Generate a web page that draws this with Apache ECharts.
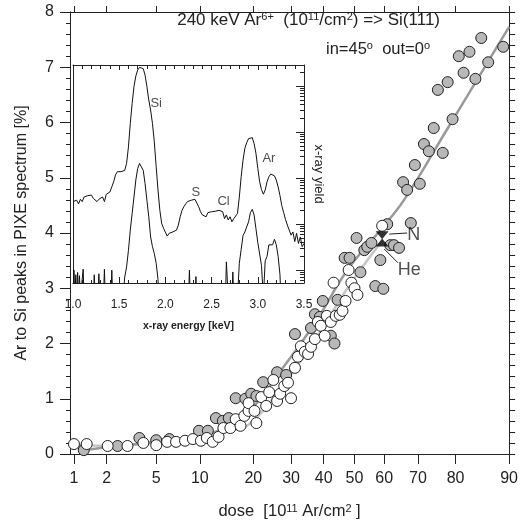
<!DOCTYPE html>
<html>
<head>
<meta charset="utf-8">
<script src="https://cdn.jsdelivr.net/npm/echarts@6.0.0/dist/echarts.min.js"></script>
<style>
  html, body { margin: 0; padding: 0; background: #fff; }
  #chart { width: 521px; height: 525px; }
</style>
</head>
<body>
<div id="chart"></div>
<script>
// dose axis of the original is hand made (neither log nor linear),
// ticks sit at these places, doses in between are interpolated
const DOSE_TICKS = [1, 2, 5, 10, 20, 30, 40, 50, 60, 70, 80, 90];
const DOSE_TICK_POS = [0, 33, 83, 127, 181, 219, 252, 283, 313, 347, 385, 439];

// filled (grey) points
const GRAY_DOSE = [1.3, 2.66, 3.98, 5.0, 6.5, 9.9, 11.5, 13.0, 14.3, 15.4, 16.7, 18.5, 19.6, 20.8, 22.6,
  26.3, 28.7, 31.2, 36.1, 37.3, 38.8, 39.7, 42.3, 43.5, 44.5, 46.8, 48.4, 50.7, 52.0, 53.3,
  54.3, 55.7, 57.0, 58.7, 59.7, 60.9, 61.8, 62.9, 64.4, 67.9, 65.6, 66.8, 70.5, 69.1, 71.6,
  72.9, 76.6, 74.2, 79.2, 75.3, 77.9, 81.5, 83.7, 80.6, 82.6, 86.1, 84.8, 88.9];
const GRAY_VAL = [0.07, 0.145, 0.29, 0.25, 0.27, 0.42, 0.42, 0.65, 0.6, 0.65, 1.01, 1.0, 1.09, 1.05, 1.3,
  1.48, 1.43, 2.17, 2.28, 2.53, 2.48, 2.77, 2.14, 2.0, 2.79, 3.55, 3.55, 3.91, 3.29, 3.69,
  3.75, 3.82, 3.04, 3.51, 2.99, 4.16, 3.78, 3.78, 3.73, 4.18, 4.92, 4.78, 4.89, 5.23, 5.61,
  5.48, 5.45, 5.9, 6.06, 6.59, 6.73, 6.9, 6.79, 7.2, 7.28, 7.09, 7.53, 7.37];

// open points
const OPEN_DOSE = [1.0, 1.39, 2.06, 3.26, 4.22, 5.0, 6.25, 7.27, 8.3, 9.2, 10.2, 11.3, 12.4, 13.5, 14.4,
  15.7, 16.7, 17.6, 18.3, 19.1, 19.1, 20.3, 20.8, 22.1, 23.4, 24.2, 25.3, 26.3, 27.1, 28.2,
  29.2, 30.0, 31.2, 32.1, 33.0, 34.2, 35.2, 36.1, 37.3, 38.2, 39.1, 40.3, 41.0, 42.3, 43.9,
  45.2, 46.1, 47.1, 43.2, 48.1, 49.0, 50.0, 51.0, 59.3];
const OPEN_VAL = [0.18, 0.18, 0.145, 0.145, 0.2, 0.16, 0.22, 0.22, 0.24, 0.27, 0.24, 0.29, 0.22, 0.31, 0.47,
  0.47, 0.63, 0.51, 0.69, 0.78, 0.92, 0.78, 0.56, 1.03, 0.87, 1.12, 1.34, 0.96, 1.09, 1.23,
  1.29, 1.01, 1.56, 1.76, 1.95, 1.85, 1.81, 1.94, 2.08, 2.39, 2.32, 2.14, 2.5, 2.39, 2.5,
  2.52, 2.59, 2.77, 3.1, 3.33, 3.1, 3.0, 2.88, 4.13];

// guide curves
const FIT_N_DOSE = [1.3, 2.66, 5, 9.9, 14.4, 19.1, 27.4, 37.3, 47.7, 59.3, 65.9, 77.6, 90];
const FIT_N_VAL = [0.07, 0.145, 0.22, 0.31, 0.47, 0.76, 1.52, 2.37, 3.33, 4.09, 4.6, 5.86, 7.73];
const FIT_HE_DOSE = [1.0, 2.06, 5, 9.9, 14.4, 19.1, 27.4, 37.3, 47.7, 58.7];
const FIT_HE_VAL = [0.18, 0.145, 0.2, 0.25, 0.4, 0.53, 1.21, 2.06, 3.0, 3.82];

// N / He markers
const MARK_DOSE = 59.3;
const MARK_N_VAL = 3.96;
const MARK_HE_VAL = 3.83;

// inset spectra: [energy keV, log10 yield]
const SPEC_TOP = [[1.00, 1.49], [1.02, 1.45], [1.04, 1.52], [1.06, 1.44], [1.08, 1.54], [1.10, 1.49],
  [1.12, 1.59], [1.14, 1.56], [1.16, 1.62], [1.18, 1.59], [1.20, 1.63], [1.22, 1.56], [1.24, 1.59],
  [1.26, 1.49], [1.28, 1.54], [1.30, 1.51], [1.32, 1.59], [1.34, 1.49], [1.36, 1.65], [1.38, 1.63],
  [1.40, 1.70], [1.42, 1.81], [1.44, 1.92], [1.46, 2.07], [1.48, 2.14], [1.50, 2.16], [1.52, 2.14],
  [1.54, 2.15], [1.56, 2.17], [1.58, 2.32], [1.60, 2.68], [1.62, 3.19], [1.64, 3.62], [1.66, 3.99],
  [1.68, 4.22], [1.70, 4.35], [1.72, 4.41], [1.74, 4.42], [1.76, 4.38], [1.78, 4.24], [1.80, 3.99],
  [1.82, 3.70], [1.84, 3.48], [1.86, 3.19], [1.88, 2.79], [1.90, 2.25], [1.92, 1.74], [1.94, 1.30],
  [1.96, 1.01], [1.98, 0.91], [2.00, 0.87], [2.02, 0.74], [2.04, 0.80], [2.06, 0.78], [2.08, 0.83],
  [2.10, 0.80], [2.12, 0.87], [2.14, 0.98], [2.16, 1.16], [2.18, 1.30], [2.20, 1.38], [2.22, 1.44],
  [2.24, 1.49], [2.26, 1.46], [2.28, 1.52], [2.30, 1.56], [2.32, 1.54], [2.34, 1.52], [2.36, 1.38],
  [2.38, 1.27], [2.40, 1.20], [2.42, 1.23], [2.44, 1.16], [2.46, 1.25], [2.48, 1.22], [2.50, 1.27],
  [2.52, 1.23], [2.54, 1.28], [2.56, 1.25], [2.58, 1.30], [2.60, 1.30], [2.62, 1.27], [2.64, 1.12],
  [2.66, 1.20], [2.68, 1.09], [2.70, 1.16], [2.72, 1.05], [2.74, 1.12], [2.76, 1.10], [2.78, 1.23],
  [2.80, 1.59], [2.82, 2.03], [2.84, 2.39], [2.86, 2.65], [2.88, 2.77], [2.90, 2.86], [2.92, 2.88],
  [2.94, 2.88], [2.96, 2.75], [2.98, 2.54], [3.00, 2.21], [3.02, 1.92], [3.04, 1.75], [3.06, 1.65],
  [3.08, 1.74], [3.10, 1.92], [3.12, 2.03], [3.14, 2.09], [3.16, 2.10], [3.18, 2.05], [3.20, 1.96],
  [3.22, 1.81], [3.24, 1.62], [3.26, 1.40], [3.28, 1.25], [3.30, 1.10], [3.32, 0.98], [3.34, 0.94],
  [3.36, 0.76], [3.38, 0.83], [3.40, 0.62], [3.42, 0.80], [3.44, 0.58], [3.46, 0.72], [3.48, 0.51],
  [3.50, 0.58]];
// -0.6 = no counts (below the frame)
const SPEC_BOTTOM = [[1.00, -0.6], [1.01, 0.0], [1.02, -0.6], [1.03, -0.1], [1.04, -0.6], [1.05, -0.05],
  [1.06, -0.6], [1.07, -0.12], [1.08, -0.6], [1.10, -0.6], [1.11, 0.02], [1.12, -0.6], [1.22, -0.6],
  [1.23, -0.1], [1.24, -0.6], [1.27, -0.6], [1.28, -0.08], [1.29, -0.6], [1.33, -0.6], [1.34, 0.02],
  [1.35, -0.6], [1.41, -0.6], [1.42, 0.0], [1.43, -0.6], [1.54, -0.6], [1.56, -0.15], [1.58, 0.07],
  [1.60, 0.43], [1.62, 0.87], [1.64, 1.23], [1.66, 1.59], [1.68, 1.96], [1.70, 2.21], [1.72, 2.32],
  [1.74, 2.28], [1.76, 2.17], [1.78, 1.88], [1.80, 1.52], [1.82, 1.16], [1.84, 0.72], [1.86, 0.51],
  [1.88, 0.36], [1.90, 0.15], [1.92, -0.2], [1.93, -0.6], [2.25, -0.6], [2.26, 0.0], [2.27, -0.6],
  [2.32, -0.6], [2.33, -0.14], [2.34, -0.6], [2.65, -0.6], [2.66, 0.18], [2.68, -0.6], [2.72, -0.6],
  [2.73, -0.04], [2.74, -0.6], [2.78, -0.6], [2.80, 0.15], [2.82, 0.45], [2.84, 0.75], [2.86, 0.83],
  [2.88, 0.85], [2.90, 1.05], [2.92, 1.25], [2.94, 1.32], [2.96, 1.2], [2.98, 0.9], [3.00, 0.6],
  [3.02, 0.35], [3.04, 0.1], [3.06, -0.6], [3.08, 0.2], [3.10, 0.3], [3.12, 0.55], [3.14, 0.58],
  [3.16, 0.55], [3.18, 0.67], [3.20, 0.55], [3.22, 0.3], [3.24, -0.1], [3.25, -0.6], [3.50, -0.6]];
const PEAK_LABELS = [['Si', 1.90, 3.63], ['S', 2.33, 1.70], ['Cl', 2.63, 1.50], ['Ar', 3.12, 2.43]];

const FONT = 'Liberation Sans, Arial, Helvetica, sans-serif';
const INK = '#222';

const toU = (d) => {
  const t = DOSE_TICKS, p = DOSE_TICK_POS;
  let i = 0;
  while (i < t.length - 2 && d > t[i + 1]) i++;
  return p[i] + (d - t[i]) * (p[i + 1] - p[i]) / (t[i + 1] - t[i]);
};
const pairs = (xs, ys) => xs.map((x, i) => [toU(x), ys[i]]);

const logMinor = [];
for (let k = -1; k <= 4; k++) {
  for (let m = 2; m <= 9; m++) {
    const v = k + Math.log10(m);
    if (v > -0.28 && v < 4.46) logMinor.push(v);
  }
}

const axisLine = { show: true, onZero: false, lineStyle: { color: INK, width: 1 } };
const sup = { fontSize: 11, verticalAlign: 'top', lineHeight: 12, fontFamily: FONT, color: INK };

const option = {
  animation: false,
  backgroundColor: '#fff',
  textStyle: { fontFamily: FONT },
  grid: [
    { left: 70, right: 8, top: 12, bottom: 71 },
    { left: 73, top: 65, width: 231, height: 218, show: true, backgroundColor: '#fff', borderWidth: 0, z: 3 }
  ],
  xAxis: [
    {
      type: 'value', gridIndex: 0, min: -4, max: 439, position: 'bottom',
      axisLine, splitLine: { show: false },
      axisTick: { customValues: DOSE_TICK_POS, length: 10, lineStyle: { color: INK } },
      axisLabel: {
        customValues: DOSE_TICK_POS, fontSize: 16, color: INK, margin: 17, fontFamily: FONT,
        formatter: (v) => {
          const i = DOSE_TICK_POS.indexOf(v);
          return i >= 0 ? String(DOSE_TICKS[i]) : '';
        }
      },
      name: 'dose  [10{s|11} Ar/cm{s|2} ]', nameLocation: 'middle', nameGap: 49,
      nameTextStyle: { fontSize: 16.5, color: INK, fontFamily: FONT, rich: { s: sup } }
    },
    {
      type: 'value', gridIndex: 0, min: -4, max: 439, position: 'top',
      axisLine, splitLine: { show: false },
      axisTick: { customValues: DOSE_TICK_POS, length: 6, lineStyle: { color: INK } },
      axisLabel: { show: false }
    },
    {
      type: 'value', gridIndex: 1, min: 1, max: 3.5, interval: 0.5, position: 'bottom', z: 4,
      axisLine, splitLine: { show: false },
      axisTick: { inside: true, length: 6, lineStyle: { color: INK } },
      minorTick: { show: true, splitNumber: 5, length: 3, lineStyle: { color: INK } },
      axisLabel: { fontSize: 12, color: INK, margin: 16, fontFamily: FONT, formatter: (v) => v.toFixed(1) },
      name: 'x-ray energy [keV]', nameLocation: 'middle', nameGap: 38,
      nameTextStyle: { fontSize: 10.5, fontWeight: 'bold', color: INK, fontFamily: FONT }
    },
    {
      type: 'value', gridIndex: 1, min: 1, max: 3.5, interval: 0.5, position: 'top', z: 4,
      axisLine, splitLine: { show: false },
      axisTick: { inside: true, length: 5, lineStyle: { color: INK } },
      minorTick: { show: true, splitNumber: 5, length: 4, lineStyle: { color: INK } },
      axisLabel: { show: false }
    }
  ],
  yAxis: [
    {
      type: 'value', gridIndex: 0, min: 0, max: 8, interval: 1, position: 'left',
      axisLine, splitLine: { show: false },
      axisTick: { length: 10, lineStyle: { color: INK } },
      minorTick: { show: true, splitNumber: 5, length: 4, lineStyle: { color: INK } },
      axisLabel: { fontSize: 16, color: INK, margin: 16, fontFamily: FONT },
      name: 'Ar to Si peaks in PIXE spectrum [%]', nameLocation: 'middle', nameGap: 40,
      nameTextStyle: { fontSize: 16, color: INK, fontFamily: FONT }
    },
    {
      type: 'value', gridIndex: 0, min: 0, max: 8, interval: 1, position: 'right',
      axisLine, splitLine: { show: false },
      axisTick: { length: 6, lineStyle: { color: INK } },
      minorTick: { show: true, splitNumber: 5, length: 6, lineStyle: { color: INK } },
      axisLabel: { show: false }
    },
    {
      type: 'value', gridIndex: 1, min: -0.28, max: 4.46, position: 'left', z: 4,
      axisLine, splitLine: { show: false }, axisTick: { show: false }, axisLabel: { show: false }
    },
    {
      type: 'value', gridIndex: 1, min: -0.28, max: 4.46, position: 'right', z: 4,
      axisLine, splitLine: { show: false },
      axisTick: { customValues: [0, 1, 2, 3, 4], inside: true, length: 8, lineStyle: { color: INK } },
      axisLabel: { show: false },
      name: 'x-ray yield', nameLocation: 'middle', nameGap: 8, nameRotate: -90,
      nameTextStyle: { fontSize: 13, color: INK, fontFamily: FONT }
    },
    {
      type: 'value', gridIndex: 1, min: -0.28, max: 4.46, position: 'right', z: 4,
      axisLine: { show: false }, splitLine: { show: false },
      axisTick: { customValues: logMinor, inside: true, length: 4, lineStyle: { color: INK } },
      axisLabel: { show: false }
    }
  ],
  graphic: [
    {
      type: 'text', x: 440, y: 20, z: 10,
      style: {
        text: '240 keV Ar{s|6+}  (10{s|11}/cm{s|2}) => Si(111)',
        align: 'right', verticalAlign: 'middle', fontSize: 17, fontFamily: FONT, fill: INK,
        rich: { s: sup }
      }
    },
    {
      type: 'text', x: 430, y: 49, z: 10,
      style: {
        text: 'in=45{s|o}  out=0{s|o}',
        align: 'right', verticalAlign: 'middle', fontSize: 16.5, fontFamily: FONT, fill: INK,
        rich: { s: sup }
      }
    }
  ],
  series: [
    {
      name: 'He fit', type: 'line', xAxisIndex: 0, yAxisIndex: 0, smooth: 0.4, showSymbol: false,
      data: pairs(FIT_HE_DOSE, FIT_HE_VAL), lineStyle: { color: '#c6c6c6', width: 2.5 }, z: 1
    },
    {
      name: 'N fit', type: 'line', xAxisIndex: 0, yAxisIndex: 0, smooth: 0.4, showSymbol: false,
      data: pairs(FIT_N_DOSE, FIT_N_VAL), lineStyle: { color: '#9a9a9a', width: 2.5 }, z: 1
    },
    {
      name: 'grey', type: 'scatter', xAxisIndex: 0, yAxisIndex: 0, symbolSize: 11,
      data: pairs(GRAY_DOSE, GRAY_VAL),
      itemStyle: { color: '#b8b8b8', borderColor: INK, borderWidth: 1, opacity: 1 }, z: 2
    },
    {
      name: 'open', type: 'scatter', xAxisIndex: 0, yAxisIndex: 0, symbolSize: 11,
      data: pairs(OPEN_DOSE, OPEN_VAL),
      itemStyle: { color: '#fff', borderColor: INK, borderWidth: 1, opacity: 1 }, z: 2
    },
    {
      name: 'N', type: 'scatter', xAxisIndex: 0, yAxisIndex: 0, symbol: 'triangle', symbolRotate: 180,
      symbolSize: [13, 8], data: [[toU(MARK_DOSE), MARK_N_VAL]], itemStyle: { color: '#000' }, z: 3
    },
    {
      name: 'He', type: 'scatter', xAxisIndex: 0, yAxisIndex: 0, symbol: 'triangle',
      symbolSize: [13, 8], data: [[toU(MARK_DOSE), MARK_HE_VAL]], itemStyle: { color: '#000' }, z: 3
    },
    {
      name: 'marker labels', type: 'scatter', xAxisIndex: 0, yAxisIndex: 0, symbolSize: 0, z: 3,
      data: [
        { name: 'N', value: [toU(68.8), 3.96] },
        { name: 'He', value: [toU(67.4), 3.33] }
      ],
      label: { show: true, position: 'inside', formatter: '{b}', fontSize: 18, color: INK, fontFamily: FONT },
      markLine: {
        silent: true, symbol: ['none', 'none'], label: { show: false },
        lineStyle: { color: INK, width: 1, type: 'solid' },
        data: [
          [{ coord: [toU(61.5), 3.98] }, { coord: [toU(66.8), 4.0] }],
          [{ coord: [toU(60.0), 3.71] }, { coord: [toU(64.1), 3.46] }]
        ]
      }
    },
    {
      name: 'spectrum top', type: 'line', xAxisIndex: 2, yAxisIndex: 2, showSymbol: false, z: 5,
      data: SPEC_TOP, lineStyle: { color: '#111', width: 1 }
    },
    {
      name: 'spectrum bottom', type: 'line', xAxisIndex: 2, yAxisIndex: 2, showSymbol: false, z: 5,
      data: SPEC_BOTTOM, lineStyle: { color: '#111', width: 1 }
    },
    {
      name: 'peaks', type: 'scatter', xAxisIndex: 2, yAxisIndex: 2, symbolSize: 0, z: 6,
      data: PEAK_LABELS.map(([n, e, y]) => ({ name: n, value: [e, y] })),
      label: { show: true, position: 'inside', formatter: '{b}', fontSize: 13, color: INK, fontFamily: FONT }
    }
  ]
};

const myChart = echarts.init(document.getElementById('chart'));
myChart.setOption(option);
</script>
</body>
</html>
